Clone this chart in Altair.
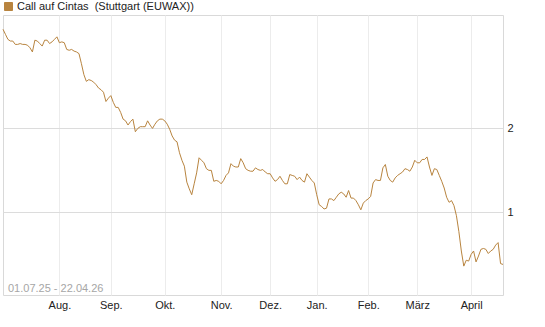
import altair as alt
import pandas as pd

series_name = "Call auf Cintas\u00a0 (Stuttgart (EUWAX))"
date_range = "01.07.25 - 22.04.26"

# one value per trading day, 01.07.25 ... 22.04.26
values = [
    3.18, 3.12, 3.06, 3.04, 3.04, 3.00, 3.00, 3.01, 3.00, 3.00,
    2.99, 2.96, 2.91, 3.05, 3.04, 3.01, 2.98, 3.05, 3.05, 3.01,
    3.03, 3.06, 3.09, 3.02, 3.03, 3.02, 2.94, 2.93, 2.94, 2.92,
    2.91, 2.89, 2.77, 2.64, 2.56, 2.58, 2.57, 2.55, 2.52, 2.48,
    2.46, 2.43, 2.32, 2.36, 2.39, 2.31, 2.25, 2.25, 2.19, 2.11,
    2.09, 2.04, 2.08, 2.11, 1.96, 2.00, 2.02, 2.02, 2.02, 2.09,
    2.04, 2.00, 2.05, 2.09, 2.11, 2.11, 2.09, 2.05, 1.99, 1.91,
    1.86, 1.84, 1.71, 1.62, 1.55, 1.36, 1.28, 1.21, 1.34, 1.47,
    1.65, 1.62, 1.59, 1.52, 1.50, 1.50, 1.37, 1.38, 1.37, 1.34,
    1.38, 1.44, 1.47, 1.58, 1.55, 1.54, 1.54, 1.64, 1.59, 1.52,
    1.50, 1.49, 1.49, 1.53, 1.51, 1.50, 1.51, 1.48, 1.46, 1.46,
    1.41, 1.37, 1.39, 1.43, 1.38, 1.34, 1.34, 1.45, 1.44, 1.43,
    1.39, 1.42, 1.38, 1.36, 1.46, 1.42, 1.38, 1.35, 1.21, 1.09,
    1.07, 1.04, 1.05, 1.16, 1.16, 1.14, 1.18, 1.22, 1.24, 1.22,
    1.18, 1.26, 1.17, 1.17, 1.14, 1.09, 1.03, 1.11, 1.14, 1.16,
    1.19, 1.35, 1.39, 1.38, 1.38, 1.53, 1.57, 1.43, 1.38, 1.36,
    1.41, 1.44, 1.46, 1.48, 1.52, 1.51, 1.49, 1.54, 1.62, 1.59,
    1.59, 1.63, 1.63, 1.66, 1.54, 1.44, 1.52, 1.51, 1.44, 1.37,
    1.29, 1.18, 1.12, 1.14, 1.08, 0.96, 0.77, 0.54, 0.36, 0.43,
    0.42, 0.50, 0.54, 0.41, 0.48, 0.56, 0.57, 0.56, 0.51, 0.54,
    0.56, 0.61, 0.64, 0.39, 0.38,
]

# trading-day index of the first session of each month
month_ticks = [23, 44, 66, 89, 109, 128, 149, 169, 191]
month_labels = ["Aug.", "Sep.", "Okt.", "Nov.", "Dez.", "Jan.", "Feb.", "März", "April"]
y_ticks = [1, 2]

df = pd.DataFrame({
    "idx": list(range(len(values))),
    "val": values,
    "series": [series_name] * len(values),
})

label_map = "{" + ",".join(f"'{t}':'{l}'" for t, l in zip(month_ticks, month_labels)) + "}"

FONT = "Liberation Sans"
LINE_COLOR = "#b8843f"

line = alt.Chart(df).mark_line(strokeWidth=1, interpolate="linear").encode(
    x=alt.X(
        "idx:Q",
        scale=alt.Scale(domain=[0, 204], nice=False, zero=False),
        axis=alt.Axis(
            values=month_ticks,
            labelExpr=f"{label_map}[datum.value]",
            title=None,
            grid=True,
            gridColor="#ececec",
            gridWidth=1,
            ticks=False,
            domain=False,
            labelPadding=4,
            labelFontSize=11,
            labelColor="#222222",
            labelFont=FONT,
        ),
    ),
    y=alt.Y(
        "val:Q",
        scale=alt.Scale(domain=[0.016, 3.35], nice=False, zero=False),
        axis=alt.Axis(
            orient="right",
            values=y_ticks,
            format="d",
            title=None,
            grid=True,
            gridColor="#dcdcdc",
            gridWidth=1,
            ticks=False,
            domain=False,
            labelPadding=4,
            labelFontSize=11,
            labelColor="#222222",
            labelFont=FONT,
        ),
    ),
    color=alt.Color(
        "series:N",
        scale=alt.Scale(range=[LINE_COLOR]),
        legend=alt.Legend(
            title=None,
            orient="none",
            legendX=0,
            legendY=-14,
            symbolType="square",
            symbolSize=64,
            symbolFillColor=LINE_COLOR,
            symbolStrokeColor="#5a3f1c",
            symbolStrokeWidth=1,
            labelFontSize=11,
            labelFont=FONT,
            labelColor="#222222",
            labelOffset=3,
            labelLimit=0,
            padding=0,
        ),
    ),
)

range_text = alt.Chart(pd.DataFrame({"t": [date_range]})).mark_text(
    align="left", baseline="middle", fontSize=11, font=FONT, color="#a6a6a6"
).encode(
    x=alt.value(5),
    y=alt.value(274),
    text="t:N",
)

chart = alt.layer(line, range_text).properties(
    width=500,
    height=280,
    padding={"left": 3, "top": 15, "right": 42, "bottom": 32},
    autosize=alt.AutoSizeParams(type="none"),
    background="white",
).configure_view(
    stroke="#d9d9d9", strokeWidth=1
)

chart.save("out.html", embed_options={"renderer": "svg", "actions": False})
